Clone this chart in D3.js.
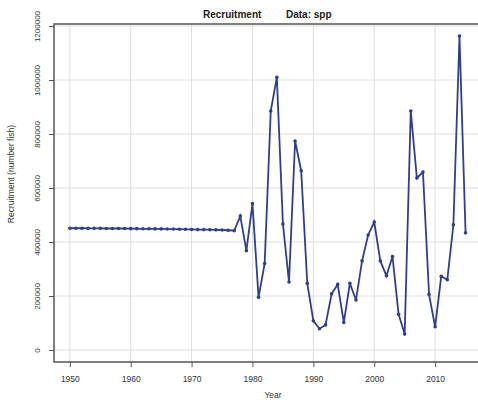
<!DOCTYPE html>
<html>
<head>
<meta charset="utf-8">
<script src="https://cdn.jsdelivr.net/npm/d3@7"></script>
<style>
  body { margin: 0; background: #fff; }
  svg { display: block; font-family: "Liberation Sans", Arial, sans-serif; }
</style>
</head>
<body>
<svg id="chart" width="478" height="400"></svg>
<script>
// Recruitment estimates by year
const years = d3.range(1950, 2016);
const recruitment = [
    451000, 451000, 451000, 450500, 450500, 450500, 450000, 450000, 450000, 450000,
    449500, 449500, 449000, 449000, 448500, 448500, 448000, 448000, 447500, 447000,
    446500, 446000, 446000, 445500, 445000, 444500, 443500, 442000, 496000, 368000,
    542000, 195000, 320000, 885000, 1010000, 467000, 252000, 774000, 664000, 247000,
    108000, 79000, 93000, 208000, 243000, 102000, 247000, 185000, 330000, 426000,
    474000, 330000, 275000, 346000, 132000, 59000, 885000, 637000, 659000, 206000,
    86000, 273000, 260000, 464000, 1163000, 434000
];
const xTicks = [1950, 1960, 1970, 1980, 1990, 2000, 2010];
const yTicks = [0, 200000, 400000, 600000, 800000, 1000000, 1200000];

const data = years.map((yr, i) => ({ year: yr, value: recruitment[i] }));

const svg = d3.select("#chart"),
    plot = { left: 54, right: 482, top: 24, bottom: 362 };

const x = d3.scaleLinear()
    .domain([1947.4, 2017.7])
    .range([plot.left, plot.right]);

const y = d3.scaleLinear()
    .domain([-44400, 1207400])
    .range([plot.bottom, plot.top]);

// Grid lines
svg.append("g")
    .selectAll("line")
    .data(xTicks)
    .enter().append("line")
    .attr("x1", d => x(d)).attr("x2", d => x(d))
    .attr("y1", plot.top).attr("y2", plot.bottom)
    .style("stroke", "#dedede")
    .style("stroke-width", 1);

svg.append("g")
    .selectAll("line")
    .data(yTicks)
    .enter().append("line")
    .attr("x1", plot.left).attr("x2", plot.right)
    .attr("y1", d => y(d)).attr("y2", d => y(d))
    .style("stroke", "#dedede")
    .style("stroke-width", 1);

// Box
svg.append("rect")
    .attr("x", plot.left)
    .attr("y", plot.top)
    .attr("width", plot.right - plot.left)
    .attr("height", plot.bottom - plot.top)
    .style("fill", "none")
    .style("stroke", "#555")
    .style("stroke-width", 1.5);

// X axis
const xAxis = svg.append("g")
    .attr("transform", `translate(0,${plot.bottom})`)
    .call(d3.axisBottom(x).tickValues(xTicks).tickFormat(d3.format("d")).tickSize(5).tickPadding(9));
xAxis.select(".domain").remove();
xAxis.selectAll("line").style("stroke", "#555");
xAxis.selectAll("text")
    .style("font-size", "8.5px")
    .style("fill", "#333")
    .style("font-family", "Liberation Sans, Arial, sans-serif");

// Y axis (labels rotated like R's default)
const yAxis = svg.append("g")
    .attr("transform", `translate(${plot.left},0)`)
    .call(d3.axisLeft(y).tickValues(yTicks).tickFormat(d3.format("d")).tickSize(5));
yAxis.select(".domain").remove();
yAxis.selectAll("line").style("stroke", "#555");
yAxis.selectAll("text")
    .attr("x", null).attr("dy", null)
    .attr("transform", "translate(-14,0) rotate(-90)")
    .style("text-anchor", "middle")
    .style("font-size", "8px")
    .style("fill", "#333")
    .style("font-family", "Liberation Sans, Arial, sans-serif");

// Series
const line = d3.line()
    .x(d => x(d.year))
    .y(d => y(d.value));

svg.append("path")
    .datum(data)
    .attr("d", line)
    .style("fill", "none")
    .style("stroke", "#2f3f8f")
    .style("stroke-width", 1.8);

svg.append("g")
    .selectAll("circle")
    .data(data)
    .enter().append("circle")
    .attr("cx", d => x(d.year))
    .attr("cy", d => y(d.value))
    .attr("r", 1.8)
    .style("fill", "#2f3f8f");

// Titles
svg.append("text")
    .attr("x", 203).attr("y", 17.5)
    .style("font-size", "10px")
    .style("font-weight", "bold")
    .style("fill", "#222")
    .text("Recruitment");

svg.append("text")
    .attr("x", 286).attr("y", 17.5)
    .style("font-size", "10px")
    .style("font-weight", "bold")
    .style("fill", "#222")
    .text("Data: spp");

svg.append("text")
    .attr("transform", "translate(14,174) rotate(-90)")
    .style("text-anchor", "middle")
    .style("font-size", "8.5px")
    .style("fill", "#333")
    .text("Recruitment (number fish)");

svg.append("text")
    .attr("x", 273).attr("y", 398)
    .style("text-anchor", "middle")
    .style("font-size", "8.5px")
    .style("fill", "#333")
    .text("Year");
</script>
</body>
</html>
